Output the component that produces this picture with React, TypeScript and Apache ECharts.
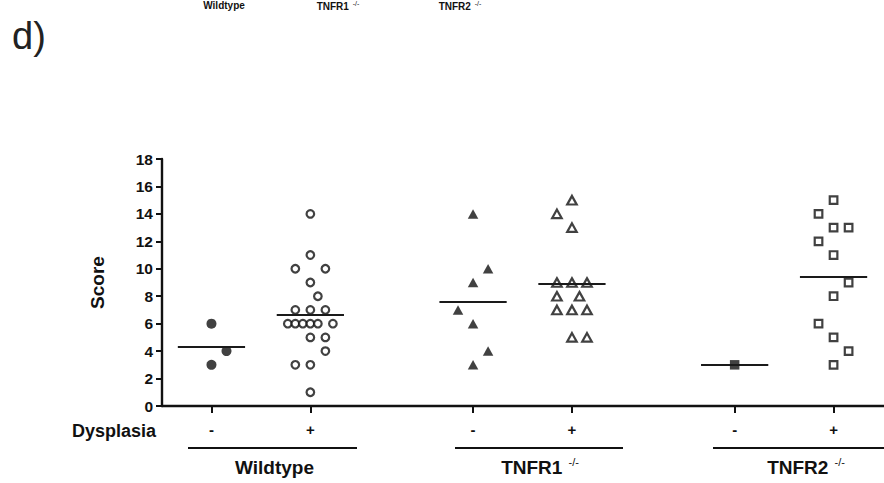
import React, { useEffect, useRef } from "react";
import * as echarts from "echarts";

// ---- data ----
const groupNames = ["Wildtype", "TNFR1", "TNFR2"];
const groupSuperscripts = ["", "-/-", "-/-"];
const dysplasiaSigns = ["-", "+"];

// Scores per group (dysplasia - / +)
const wildtypeNeg = [6, 4, 3];
const wildtypePos = [14, 11, 10, 10, 9, 8, 7, 7, 7, 6, 6, 6, 6, 6, 6, 5, 5, 4, 3, 3, 1];
const tnfr1Neg = [14, 10, 9, 7, 6, 4, 3];
const tnfr1Pos = [15, 14, 13, 9, 9, 9, 8, 8, 7, 7, 7, 5, 5];
const tnfr2Neg = [3];
const tnfr2Pos = [15, 14, 13, 13, 12, 11, 9, 8, 6, 5, 4, 3];

// horizontal spread of each point (in dot widths) as drawn in the dot plot
const wildtypeNegSpread = [0, 1, 0];
const wildtypePosSpread = [0, 0, -1, 1, 0, 0.5, -1, 0, 1, -1.5, -1, -0.5, 0, 0.5, 1.5, 0, 1, 1, -1, 0, 0];
const tnfr1NegSpread = [0, 1, 0, -1, 0, 1, 0];
const tnfr1PosSpread = [0, -1, 0, -1, 0, 1, -1, 0.5, -1, 0, 1, 0, 1];
const tnfr2NegSpread = [0];
const tnfr2PosSpread = [0, -1, 0, 1, -1, 0, 1, 0, -1, 0, 1, 0];

const yTicks = [0, 2, 4, 6, 8, 10, 12, 14, 16, 18];

// ---- layout / style ----
const FONT = "'Liberation Sans', Arial, Helvetica, sans-serif";
const INK = "#111111";
const X_MAX = 7.3;
const FIRST_POS = 0.5;
const GROUP_STEP = 2.645;
const DOT_STEP = 0.152;
const MEAN_HALF = 0.34;

const posOf = (g: number, s: number) => +(FIRST_POS + g * GROUP_STEP + s).toFixed(4);
const tickPositions: number[] = [];
const tickSigns: string[] = [];
groupNames.forEach((_, g) =>
  dysplasiaSigns.forEach((sign, s) => {
    tickPositions.push(posOf(g, s));
    tickSigns.push(sign);
  })
);

const mean = (a: number[]) => a.reduce((x, y) => x + y, 0) / a.length;

type Spec = {
  name: string;
  values: number[];
  spread: number[];
  g: number;
  s: number;
  symbol: string;
  filled: boolean;
  size: number | number[];
};

const specs: Spec[] = [
  { name: "Wildtype -", values: wildtypeNeg, spread: wildtypeNegSpread, g: 0, s: 0, symbol: "circle", filled: true, size: 10 },
  { name: "Wildtype +", values: wildtypePos, spread: wildtypePosSpread, g: 0, s: 1, symbol: "circle", filled: false, size: 7.6 },
  { name: "TNFR1 -", values: tnfr1Neg, spread: tnfr1NegSpread, g: 1, s: 0, symbol: "triangle", filled: true, size: [10.5, 9.5] },
  { name: "TNFR1 +", values: tnfr1Pos, spread: tnfr1PosSpread, g: 1, s: 1, symbol: "triangle", filled: false, size: [9.5, 8.5] },
  { name: "TNFR2 -", values: tnfr2Neg, spread: tnfr2NegSpread, g: 2, s: 0, symbol: "rect", filled: true, size: 9.5 },
  { name: "TNFR2 +", values: tnfr2Pos, spread: tnfr2PosSpread, g: 2, s: 1, symbol: "rect", filled: false, size: 7.6 },
];

function buildSeries() {
  return specs.map((sp) => {
    const center = posOf(sp.g, sp.s);
    const m = mean(sp.values);
    return {
      type: "scatter",
      name: sp.name,
      symbol: sp.symbol,
      symbolSize: sp.size,
      itemStyle: sp.filled
        ? { color: INK, borderWidth: 0 }
        : { color: "#ffffff", borderColor: INK, borderWidth: 2.2 },
      data: sp.values.map((v, i) => [center + sp.spread[i] * DOT_STEP, v]),
      markLine: {
        silent: true,
        symbol: ["none", "none"],
        label: { show: false },
        lineStyle: { color: "#1a1a1a", width: 2.2, type: "solid" },
        data: [[{ coord: [center - MEAN_HALF, m] }, { coord: [center + MEAN_HALF, m] }]],
      },
    };
  });
}

function labelText(main: string, sup: string, size: number, weight: string, supSize: number, supLift: number) {
  return {
    text: sup ? `{m|${main}}{s|  ${sup}}` : `{m|${main}}`,
    rich: {
      m: { fontFamily: FONT, fontSize: size, fontWeight: weight, fill: INK, color: INK },
      s: { fontFamily: FONT, fontSize: supSize, fontWeight: "normal", fill: INK, color: INK, padding: [0, 0, supLift, 0] },
    },
  };
}

export default function App() {
  const ref = useRef<HTMLDivElement>(null);
  useEffect(() => {
    if (!ref.current) return;
    const chart = echarts.init(ref.current, undefined, { renderer: "svg" });

    const bottomLabels = [
      { cx: 274.5, x1: 188, x2: 357 },
      { cx: 540, x1: 455, x2: 623 },
      { cx: 806, x1: 713, x2: 884 },
    ];
    const topLabels = [{ cx: 224 }, { cx: 338 }, { cx: 460 }];

    const graphic: any[] = [
      {
        type: "text",
        x: 12,
        y: 36,
        style: { text: "d)", fontFamily: FONT, fontSize: 38, fill: "#222", align: "left", verticalAlign: "middle" },
      },
      {
        type: "text",
        x: 156,
        y: 431,
        style: { text: "Dysplasia", fontFamily: FONT, fontSize: 18, fontWeight: "bold", fill: INK, align: "right", verticalAlign: "middle" },
      },
    ];
    groupNames.forEach((name, g) => {
      const b = bottomLabels[g];
      graphic.push({
        type: "line",
        shape: { x1: b.x1, y1: 448, x2: b.x2, y2: 448 },
        style: { stroke: INK, lineWidth: 2 },
      });
      graphic.push({
        type: "text",
        x: b.cx,
        y: 467,
        style: { ...labelText(name, groupSuperscripts[g], 19, "bold", 11, 11), align: "center", verticalAlign: "middle" },
      });
      graphic.push({
        type: "text",
        x: topLabels[g].cx,
        y: 0,
        style: { ...labelText(name, groupSuperscripts[g], 10, "bold", 7, 5), align: "center", verticalAlign: "top" },
      });
    });

    chart.setOption({
      animation: false,
      textStyle: { fontFamily: FONT },
      grid: { left: 162, right: 0, top: 159, bottom: 77, containLabel: false, outerBoundsMode: "none" },
      xAxis: {
        type: "value",
        min: 0,
        max: X_MAX,
        splitLine: { show: false },
        axisLine: { onZero: false, lineStyle: { color: INK, width: 2.4 } },
        axisTick: { customValues: tickPositions, length: 7, lineStyle: { color: INK, width: 2 } },
        axisLabel: {
          customValues: tickPositions,
          formatter: (v: number) => {
            const i = tickPositions.findIndex((p) => Math.abs(p - v) < 1e-6);
            return i >= 0 ? tickSigns[i] : "";
          },
          fontFamily: FONT,
          fontSize: 15,
          fontWeight: "bold",
          color: INK,
          margin: 16,
        },
      },
      yAxis: {
        type: "value",
        min: 0,
        max: 18,
        interval: 2,
        name: "Score",
        nameLocation: "middle",
        nameGap: 55,
        nameRotate: 90,
        nameTextStyle: { fontFamily: FONT, fontSize: 19, fontWeight: "bold", color: INK },
        splitLine: { show: false },
        axisLine: { show: true, lineStyle: { color: INK, width: 2.4 } },
        axisTick: { show: true, length: 6, lineStyle: { color: INK, width: 2 } },
        axisLabel: {
          fontFamily: FONT,
          fontSize: 15.5,
          fontWeight: "bold",
          color: INK,
          margin: 9,
          formatter: (v: number) => (yTicks.includes(v) ? String(v) : ""),
        },
      },
      graphic,
      series: buildSeries(),
    });
    return () => chart.dispose();
  }, []);

  return (
    <div
      ref={ref}
      style={{ position: "absolute", left: 0, top: 0, width: 884, height: 483, background: "#fff" }}
    />
  );
}
